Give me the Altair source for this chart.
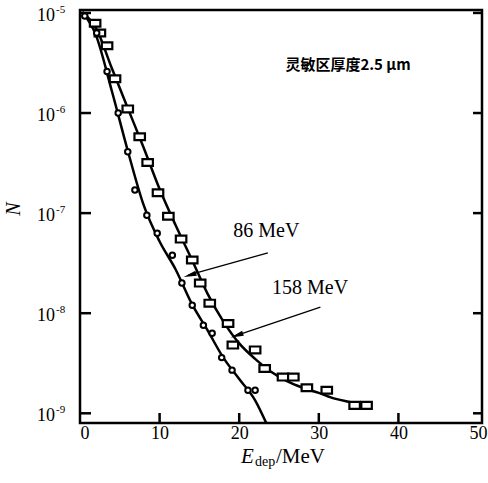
import altair as alt
import pandas as pd

# ---- data ----
# 158 MeV (squares, upper curve)
E_158 = [1.9, 2.5, 3.4, 4.4, 6.0, 7.5, 8.5, 9.8, 11.1, 12.7, 14.1, 15.1, 16.3, 18.6, 19.2,
         22.0, 23.2, 25.5, 26.8, 28.5, 31.0, 34.5, 36.0]
N_158 = [7.9e-6, 6.3e-6, 4.7e-6, 2.2e-6, 1.1e-6, 5.8e-7, 3.2e-7, 1.6e-7, 9.3e-8, 5.5e-8, 3.4e-8,
         2.0e-8, 1.26e-8, 7.9e-9, 4.8e-9, 4.3e-9, 2.8e-9, 2.3e-9, 2.3e-9, 1.8e-9, 1.7e-9, 1.2e-9, 1.2e-9]
# 86 MeV (circles, lower curve)
E_86 = [0.6, 2.1, 3.4, 4.8, 6.0, 6.9, 8.4, 9.7, 11.6, 12.8, 14.1, 15.5, 16.6, 17.8, 19.1, 21.1, 22.0]
N_86 = [9.3e-6, 6.3e-6, 2.6e-6, 1.0e-6, 4.1e-7, 1.7e-7, 9.5e-8, 6.3e-8, 3.8e-8, 2.0e-8, 1.2e-8,
        7.6e-9, 6.3e-9, 3.6e-9, 2.7e-9, 1.7e-9, 1.7e-9]
# fitted curves
fitE_158 = [0.3, 2, 4, 6, 8, 10, 12, 14, 16, 18, 20, 22, 24, 26, 28, 30, 32, 34, 36.3]
fitN_158 = [1.02e-5, 7.1e-6, 2.8e-6, 1.12e-6, 4.5e-7, 1.74e-7, 7.6e-8, 3.5e-8, 1.58e-8, 8.3e-9,
            5.0e-9, 3.5e-9, 2.6e-9, 2.1e-9, 1.8e-9, 1.6e-9, 1.4e-9, 1.29e-9, 1.17e-9]
fitE_86 = [0.3, 2, 4, 6, 8, 10, 12, 14, 16, 18, 20, 22, 23.4]
fitN_86 = [1.02e-5, 6.0e-6, 1.66e-6, 4.2e-7, 1.2e-7, 5.2e-8, 2.75e-8, 1.26e-8, 6.8e-9, 3.6e-9,
           2.2e-9, 1.35e-9, 8.0e-10]

# annotations
label_text = ["86 MeV", "158 MeV"]
label_E = [23.4, 28.9]
label_N = [6.6e-8, 1.79e-8]
arrow_E = [23.6, 30.2]
arrow_N = [4.0e-8, 1.15e-8]
arrow_E2 = [13.6, 19.4]
arrow_N2 = [2.4e-8, 5.9e-9]
head_E = [13.8, 19.7]
head_N = [2.4e-8, 6.0e-9]
head_angle = [253, 251]
note_text = ["灵敏区厚度2.5 μm"]
note_E = [25.8]
note_N = [3.0e-6]

ytick_vals = [1e-5, 1e-6, 1e-7, 1e-8, 1e-9]
ytick_exps = ["-5", "-6", "-7", "-8", "-9"]
xtick_inner = [10, 20, 30, 40]
xtick_labels = [0, 10, 20, 30, 40, 50]

W, H = 402, 413
SERIF = "Liberation Serif"

xs = alt.Scale(domain=[0, 50.5], nice=False, zero=False)
ys = alt.Scale(type="log", domain=[8e-10, 1.07e-5], nice=False)
xaxis = alt.Axis(values=xtick_labels, ticks=False, domain=False, grid=False,
                 labelFont=SERIF, labelFontSize=18, labelPadding=1, labelColor="black",
                 format="d", title=None)
X = alt.X("E:Q", scale=xs, axis=xaxis, title=None)
Y = alt.Y("N:Q", scale=ys, axis=None)

fit158 = pd.DataFrame({"E": fitE_158, "N": fitN_158})
fit86 = pd.DataFrame({"E": fitE_86, "N": fitN_86})
pts158 = pd.DataFrame({"E": E_158, "N": N_158})
pts86 = pd.DataFrame({"E": E_86, "N": N_86})

line158 = alt.Chart(fit158).mark_line(color="black", strokeWidth=2.5, interpolate="monotone", clip=True).encode(x=X, y=Y)
line86 = alt.Chart(fit86).mark_line(color="black", strokeWidth=2.5, interpolate="monotone", clip=True).encode(x=X, y=Y)

rect_path = "M-1,-0.65L1,-0.65L1,0.65L-1,0.65Z"
sq = alt.Chart(pts158).mark_point(shape=rect_path, size=110, filled=True, fill="white",
                                  stroke="black", strokeWidth=2.2, opacity=1).encode(x=X, y=Y)
ci = alt.Chart(pts86).mark_point(shape="circle", size=30, filled=True, fill="white",
                                 stroke="black", strokeWidth=2, opacity=1).encode(x=X, y=Y)

arrows = pd.DataFrame({"E": arrow_E, "N": arrow_N, "E2": arrow_E2, "N2": arrow_N2})
arrow_lines = alt.Chart(arrows).mark_rule(color="black", strokeWidth=1.3).encode(
    x=X, y=Y, x2="E2:Q", y2="N2:Q")
heads = pd.DataFrame({"E": head_E, "N": head_N, "ang": head_angle})
arrow_heads = alt.Chart(heads).mark_point(shape="M0,-1L0.4,1L-0.4,1Z", size=170, filled=True,
                                          color="black", opacity=1).encode(
    x=X, y=Y, angle=alt.Angle("ang:Q", scale=None))

labels = pd.DataFrame({"E": label_E, "N": label_N, "t": label_text})
label_marks = alt.Chart(labels).mark_text(font=SERIF, fontSize=20, color="black",
                                          align="center", baseline="middle").encode(x=X, y=Y, text="t:N")
notes = pd.DataFrame({"E": note_E, "N": note_N, "t": note_text})
note_mark = alt.Chart(notes).mark_text(font="Noto Sans CJK SC", fontSize=15, fontWeight="bold",
                                       color="black", align="left", baseline="middle").encode(x=X, y=Y, text="t:N")

# inward ticks
yt = pd.DataFrame({"N": ytick_vals, "exp": ytick_exps, "base": ["10"] * len(ytick_vals)})
left_ticks = alt.Chart(yt).mark_rule(color="black", strokeWidth=2.5).encode(
    y=Y, x=alt.value(0), x2=alt.value(11))
right_ticks = alt.Chart(yt).mark_rule(color="black", strokeWidth=2.5).encode(
    y=Y, x=alt.value(W - 9), x2=alt.value(W))
xt = pd.DataFrame({"E": xtick_inner})
bottom_ticks = alt.Chart(xt).mark_rule(color="black", strokeWidth=2.5).encode(
    x=X, y=alt.value(H), y2=alt.value(H - 10))

ylab_base = alt.Chart(yt).mark_text(font=SERIF, fontSize=18, color="black", align="right",
                                    baseline="middle", dy=3).encode(y=Y, x=alt.value(-25), text="base:N")
ylab_exp = alt.Chart(yt).mark_text(font=SERIF, fontSize=11, color="black", align="left",
                                   baseline="middle", dy=-3).encode(y=Y, x=alt.value(-24), text="exp:N")

# axis titles
tt = pd.DataFrame({"k": [0]})
ytitle = alt.Chart(tt).mark_text(font=SERIF, fontSize=20, fontStyle="italic", color="black",
                                 angle=270, align="center", baseline="middle").encode(
    x=alt.value(-66), y=alt.value(199), text=alt.value("N"))
xt_E = alt.Chart(tt).mark_text(font=SERIF, fontSize=21, fontStyle="italic", color="black",
                               align="left", baseline="alphabetic").encode(
    x=alt.value(161), y=alt.value(453), text=alt.value("E"))
xt_dep = alt.Chart(tt).mark_text(font=SERIF, fontSize=14, color="black",
                                 align="left", baseline="alphabetic").encode(
    x=alt.value(175), y=alt.value(456), text=alt.value("dep"))
xt_mev = alt.Chart(tt).mark_text(font=SERIF, fontSize=21, color="black",
                                 align="left", baseline="alphabetic").encode(
    x=alt.value(196), y=alt.value(453), text=alt.value("/MeV"))

chart = alt.layer(
    line158, line86, sq, ci, arrow_lines, arrow_heads, label_marks, note_mark,
    left_ticks, right_ticks, bottom_ticks, ylab_base, ylab_exp, ytitle, xt_E, xt_dep, xt_mev
).properties(
    width=W, height=H,
    autosize=alt.AutoSizeParams(type="none"),
    padding={"left": 80, "top": 10, "right": 6, "bottom": 60},
    background="white",
).configure_view(stroke="black", strokeWidth=2.5)

chart.save("out.html", embed_options={"renderer": "svg", "actions": False})
